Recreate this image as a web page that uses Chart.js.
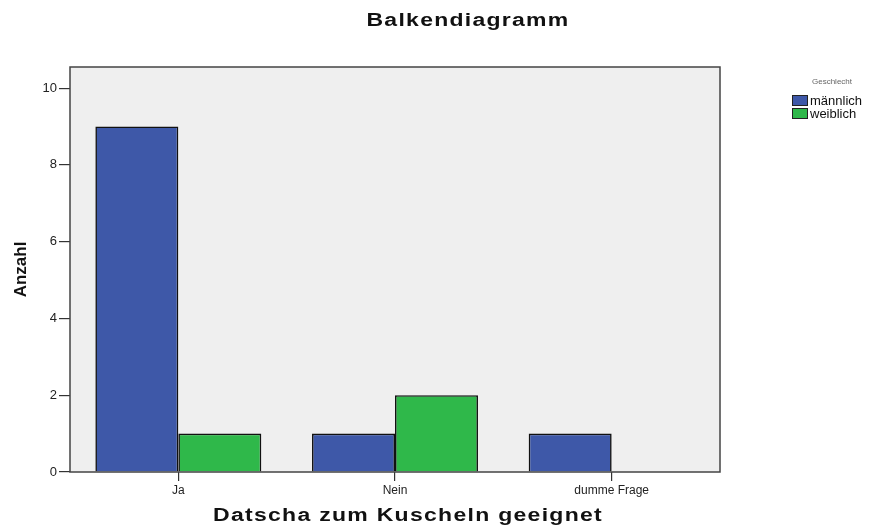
<!DOCTYPE html>
<html>
<head>
<meta charset="utf-8">
<script src="https://cdn.jsdelivr.net/npm/chart.js@4"></script>
<style>
  html, body { margin: 0; padding: 0; background: #fff; }
  #wrap { width: 880px; height: 528px; }
</style>
</head>
<body>
<div id="wrap"><canvas id="chart" width="880" height="528"></canvas></div>
<script>
"use strict";

const categories = ["Ja", "Nein", "dumme Frage"];
const maennlich = [9, 1, 1];
const weiblich = [1, 2, 0];
const yTicks = [0, 2, 4, 6, 8, 10];

const FONT = "'Liberation Sans', Arial, sans-serif";

// wide bold captions, stretched horizontally to the reference width
function wideText(ctx, text, cx, cy, width) {
  ctx.save();
  ctx.font = "bold 18px " + FONT;
  ctx.letterSpacing = "1px";
  const w = ctx.measureText(text).width;
  ctx.translate(cx, cy);
  ctx.scale(width / w, 1);
  ctx.textAlign = "center";
  ctx.textBaseline = "middle";
  ctx.fillStyle = "#111";
  ctx.fillText(text, 0, 0);
  ctx.restore();
}

// plot frame, title, x title and legend are drawn around the chart area
const framePlugin = {
  id: "frame",
  beforeDatasetsDraw(chart) {
    const { ctx, chartArea: a } = chart;
    ctx.save();
    ctx.fillStyle = "#efefef";
    ctx.fillRect(a.left, a.top, a.right - a.left, a.bottom - a.top);
    ctx.restore();
  },
  afterDraw(chart) {
    const { ctx, chartArea: a } = chart;
    ctx.save();
    ctx.strokeStyle = "#444";
    ctx.lineWidth = 1.5;
    ctx.strokeRect(a.left, a.top, a.right - a.left, a.bottom - a.top);
    ctx.restore();

    wideText(ctx, "Balkendiagramm", 468, 21, 203);
    wideText(ctx, "Datscha zum Kuscheln geeignet", 408, 516, 390);

    // legend
    ctx.save();
    ctx.textAlign = "center";
    ctx.textBaseline = "middle";
    ctx.font = "8px " + FONT;
    ctx.fillStyle = "#666";
    ctx.fillText("Geschlecht", 832, 82);
    ctx.textAlign = "left";
    ctx.font = "13px " + FONT;
    chart.data.datasets.forEach((ds, i) => {
      const y = 95 + i * 13;
      ctx.fillStyle = ds.backgroundColor;
      ctx.fillRect(792, y, 16, 11);
      ctx.strokeStyle = "#222";
      ctx.lineWidth = 1;
      ctx.strokeRect(792.5, y + 0.5, 15, 10);
      ctx.fillStyle = "#111";
      ctx.fillText(ds.label, 810, y + 6);
    });
    ctx.restore();
  },
};

new Chart(document.getElementById("chart"), {
  type: "bar",
  data: {
    labels: categories,
    datasets: [
      { label: "männlich", data: maennlich, backgroundColor: "#3e58a8" },
      { label: "weiblich", data: weiblich, backgroundColor: "#2fb84a" },
    ],
  },
  options: {
    responsive: false,
    animation: false,
    events: [],
    layout: { padding: { top: 67, right: 160, bottom: 0, left: 0 } },
    datasets: {
      bar: {
        categoryPercentage: 0.766,
        barPercentage: 1,
        borderColor: "#111",
        borderWidth: 1.6,
        borderSkipped: "bottom",
      },
    },
    plugins: {
      legend: { display: false },
      title: { display: false },
      tooltip: { enabled: false },
    },
    scales: {
      x: {
        offset: true,
        afterFit(scale) { scale.height = 56; },
        grid: { drawOnChartArea: false, offset: false, tickLength: 9, color: "#333", lineWidth: 1.2 },
        border: { display: false },
        ticks: { color: "#222", font: { family: FONT, size: 12 }, padding: 2, maxRotation: 0 },
      },
      y: {
        min: 0,
        max: 10.55,
        afterFit(scale) { scale.width = 70; },
        afterBuildTicks(scale) { scale.ticks = yTicks.map((v) => ({ value: v })); },
        grid: { drawOnChartArea: false, tickLength: 11, color: "#333", lineWidth: 1.2 },
        border: { display: false },
        ticks: { color: "#222", font: { family: FONT, size: 13 }, padding: 2 },
        title: {
          display: true,
          text: "Anzahl",
          color: "#111",
          font: { family: FONT, size: 17, weight: "bold" },
          padding: { top: 11, bottom: 0 },
        },
      },
    },
  },
  plugins: [framePlugin],
});
</script>
</body>
</html>
